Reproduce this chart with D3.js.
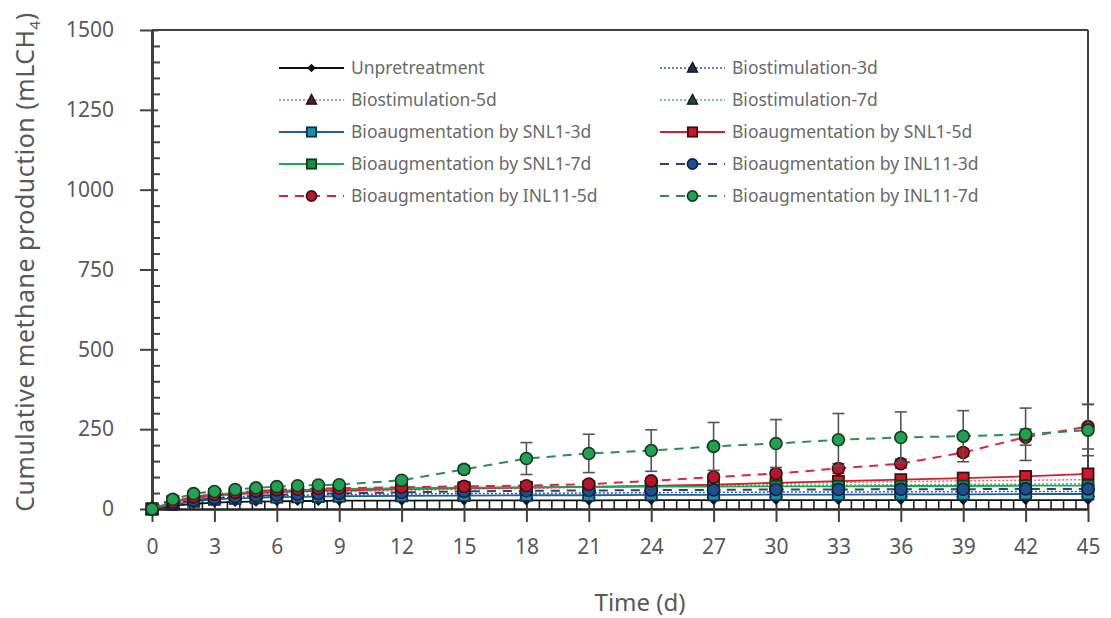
<!DOCTYPE html>
<html><head><meta charset="utf-8">
<script src="https://cdn.jsdelivr.net/npm/d3@7"></script>
<style>body{margin:0;background:#fff}svg{display:block}</style>
</head><body>
<svg id="c" width="1111" height="618"></svg>
<script>
const days = [0,1,2,3,4,5,6,7,8,9,12,15,18,21,24,27,30,33,36,39,42,45];
const unpretreatment = [0,10,16,20,22,23,24,25,25,26,26,27,27,27,28,28,28,28,28,28,28,28];
const bio3 = [0,18,28,34,38,40,42,43,44,45,47,48,49,50,51,52,53,53,54,54,55,55];
const bio5 = [0,20,32,40,45,48,50,52,54,55,58,62,65,68,72,76,80,83,86,88,90,92];
const bio7 = [0,22,36,44,48,52,55,57,58,60,63,66,68,70,72,73,74,75,76,77,78,79];
const snl3 = [0,14,24,30,33,35,37,38,39,40,41,42,43,43,44,44,45,45,46,46,47,47];
const snl5 = [0,20,34,42,47,50,53,55,57,58,62,65,67,69,72,76,82,87,92,97,102,110];
const snl7 = [0,24,38,46,50,54,57,59,61,62,65,67,68,69,70,70,71,71,72,72,73,73];
const inl3 = [0,16,27,34,38,41,44,46,48,49,52,55,57,58,59,60,61,61,62,62,63,63];
const inl5 = [0,22,38,46,52,56,60,62,64,65,68,71,73,78,88,100,111,127,142,177,225,258];
const inl7 = [0,30,48,55,61,66,70,73,75,76,90,124,158,174,183,196,205,217,224,228,234,247];
const inl5Err = [0,2,3,3,3,3,4,4,4,4,5,6,6,8,8,10,10,15,14,12,25,70];
const inl7Err = [0,3,4,5,5,5,6,6,6,6,8,12,50,60,65,75,75,82,80,80,82,80];
const seriesNames = ["Unpretreatment","Biostimulation-3d","Biostimulation-5d","Biostimulation-7d",
  "Bioaugmentation by SNL1-3d","Bioaugmentation by SNL1-5d","Bioaugmentation by SNL1-7d",
  "Bioaugmentation by INL11-3d","Bioaugmentation by INL11-5d","Bioaugmentation by INL11-7d"];
const yTicks = [0,250,500,750,1000,1250,1500];
const xTicks = [0,3,6,9,12,15,18,21,24,27,30,33,36,39,42,45];

const series = [
  {name:seriesNames[0], v:unpretreatment, line:"#111", dash:null, w:1.8, shape:"diamond", fill:"#111", stroke:"#111", size:5},
  {name:seriesNames[1], v:bio3, line:"#3a5a98", dash:"2,2", w:1.5, shape:"triangle", fill:"#1f2f50", stroke:"#111", size:11},
  {name:seriesNames[2], v:bio5, line:"#e4607a", dash:"2,2", w:1.5, shape:"triangle", fill:"#5a1a24", stroke:"#111", size:11},
  {name:seriesNames[3], v:bio7, line:"#4cb478", dash:"2,2", w:1.5, shape:"triangle", fill:"#1f4a30", stroke:"#111", size:11},
  {name:seriesNames[4], v:snl3, line:"#1f5f9a", dash:null, w:1.8, shape:"square", fill:"#1b8fa5", stroke:"#14304f", size:11},
  {name:seriesNames[5], v:snl5, line:"#d0202e", dash:null, w:1.8, shape:"square", fill:"#d0182a", stroke:"#3a1010", size:11},
  {name:seriesNames[6], v:snl7, line:"#1aa850", dash:null, w:1.8, shape:"square", fill:"#1e8c48", stroke:"#123a20", size:11},
  {name:seriesNames[7], v:inl3, line:"#2a4470", dash:"9,7", w:2, shape:"circle", fill:"#1e4f8c", stroke:"#102040", size:6, err:null},
  {name:seriesNames[8], v:inl5, line:"#d42846", dash:"9,7", w:2, shape:"circle", fill:"#b8142c", stroke:"#3a1010", size:6, err:inl5Err},
  {name:seriesNames[9], v:inl7, line:"#2e8a56", dash:"9,7", w:2, shape:"circle", fill:"#23a052", stroke:"#123a20", size:6, err:inl7Err}
];

const svg = d3.select("#c");
const x = d3.scaleLinear().domain([0,45]).range([152,1088]);
const y = d3.scaleLinear().domain([0,1500]).range([509,30]);
const FONT = "'Noto Sans', 'Open Sans', sans-serif";
const AX = "#404040";

// frame top & right
svg.append("line").attr("x1",x(0)).attr("x2",x(45)).attr("y1",y(1500)).attr("y2",y(1500)).attr("stroke",AX).attr("stroke-width",2);
svg.append("line").attr("x1",x(45)).attr("x2",x(45)).attr("y1",y(1500)).attr("y2",y(0)).attr("stroke",AX).attr("stroke-width",2);

// y minor
const yMinor = d3.range(0,1501,50).filter(d=>d%250!==0);
const gyMinor = svg.append("g").attr("transform",`translate(${x(0)},0)`)
  .call(d3.axisLeft(y).tickValues(yMinor).tickSize(-8).tickFormat(""));
gyMinor.select(".domain").remove();
gyMinor.selectAll("line").attr("stroke",AX).attr("stroke-width",2);

// y major
const gy = svg.append("g").attr("transform",`translate(${x(0)},0)`)
  .call(d3.axisLeft(y).tickValues(yTicks).tickSize(12).tickPadding(26).tickSizeOuter(0).tickFormat(d3.format("d")));
gy.select(".domain").attr("stroke",AX).attr("stroke-width",3);
gy.selectAll(".tick line").attr("stroke",AX).attr("stroke-width",2).attr("x2",-12).attr("x1",6);
gy.selectAll(".tick text").attr("fill","#595959").style("font-family",FONT).style("font-size","21px");

// x minor
const xMinor = d3.range(0,45.001,0.6).map(d=>+d.toFixed(2)).filter(d=>Math.abs(d/3-Math.round(d/3))>1e-6);
const gxMinor = svg.append("g").attr("transform",`translate(0,${y(0)})`)
  .call(d3.axisBottom(x).tickValues(xMinor).tickSize(-8).tickFormat(""));
gxMinor.select(".domain").remove();
gxMinor.selectAll("line").attr("stroke","#222").attr("stroke-width",1.6);

// x major
const gx = svg.append("g").attr("transform",`translate(0,${y(0)})`)
  .call(d3.axisBottom(x).tickValues(xTicks).tickSize(13).tickPadding(17).tickSizeOuter(0).tickFormat(d3.format("d")));
gx.select(".domain").attr("stroke","#222").attr("stroke-width",2.5);
gx.selectAll(".tick line").attr("stroke",AX).attr("stroke-width",2).attr("y1",-7).attr("y2",13);
gx.selectAll(".tick text").attr("fill","#595959").style("font-family",FONT).style("font-size","21px");

// axis titles
svg.append("text").attr("x",640).attr("y",611).attr("text-anchor","middle")
  .attr("fill","#595959").style("font-family",FONT).style("font-size","24px").text("Time (d)");
const yt = svg.append("text").attr("transform","translate(34,262) rotate(-90)").attr("text-anchor","middle")
  .attr("fill","#595959").style("font-family",FONT).style("font-size","25px").style("letter-spacing","0.5px");
yt.append("tspan").text("Cumulative methane production (mLCH");
yt.append("tspan").attr("dy",6).style("font-size","15px").text("4");
yt.append("tspan").attr("dy",-6).text(")");

function marker(g, s, cx, cy, k){
  k = k || 1;
  if(s.shape==="circle"){
    g.append("circle").attr("cx",cx).attr("cy",cy).attr("r",s.size*k).attr("fill",s.fill).attr("stroke",s.stroke).attr("stroke-width",1.6);
  } else if(s.shape==="square"){
    const z=s.size*k;
    g.append("rect").attr("x",cx-z/2).attr("y",cy-z/2).attr("width",z).attr("height",z)
      .attr("fill",s.fill).attr("stroke",s.stroke).attr("stroke-width",1.8);
  } else if(s.shape==="triangle"){
    const h=s.size*k;
    g.append("path").attr("d",`M${cx},${cy-h*0.6}L${cx+h*0.55},${cy+h*0.45}L${cx-h*0.55},${cy+h*0.45}Z`)
      .attr("fill",s.fill).attr("stroke",s.stroke).attr("stroke-width",1.2);
  } else {
    const r=s.size*k;
    g.append("path").attr("d",`M${cx},${cy-r}L${cx+r},${cy}L${cx},${cy+r}L${cx-r},${cy}Z`).attr("fill",s.fill);
  }
}

const line = d3.line().x((d,i)=>x(days[i])).y(d=>y(d));
const plot = svg.append("g");
series.forEach(s=>{
  const g = plot.append("g");
  if(s.err){
    s.v.forEach((v,i)=>{
      const e=s.err[i]; if(!e) return;
      const cx=x(days[i]);
      g.append("line").attr("x1",cx).attr("x2",cx).attr("y1",y(v+e)).attr("y2",y(v-e)).attr("stroke","#555").attr("stroke-width",1.6);
      [v+e,v-e].forEach(t=>g.append("line").attr("x1",cx-6).attr("x2",cx+6).attr("y1",y(t)).attr("y2",y(t)).attr("stroke","#555").attr("stroke-width",1.6));
    });
  }
  g.append("path").attr("d",line(s.v)).attr("fill","none").attr("stroke",s.line).attr("stroke-width",s.w)
    .attr("stroke-dasharray",s.dash);
  s.v.forEach((v,i)=>marker(g,s,x(days[i]),y(v)));
});

// legend
const leg = svg.append("g");
const rowsY = [68,100,132,164,196];
series.forEach((s,i)=>{
  const col = i%2, row = Math.floor(i/2);
  const x0 = col===0?279:660, x1 = col===0?344:725, tx = col===0?351:732;
  const cy = rowsY[row];
  const g = leg.append("g");
  g.append("line").attr("x1",x0).attr("x2",x1).attr("y1",cy).attr("y2",cy).attr("stroke",s.line).attr("stroke-width",s.w).attr("stroke-dasharray",s.dash);
  marker(g,s,(x0+x1)/2,cy,0.85);
  g.append("text").attr("x",tx).attr("y",cy).attr("dy","0.35em").attr("fill","#6a6a6a")
    .style("font-family",FONT).style("font-size","17.5px").text(s.name);
});
</script>
</body></html>
